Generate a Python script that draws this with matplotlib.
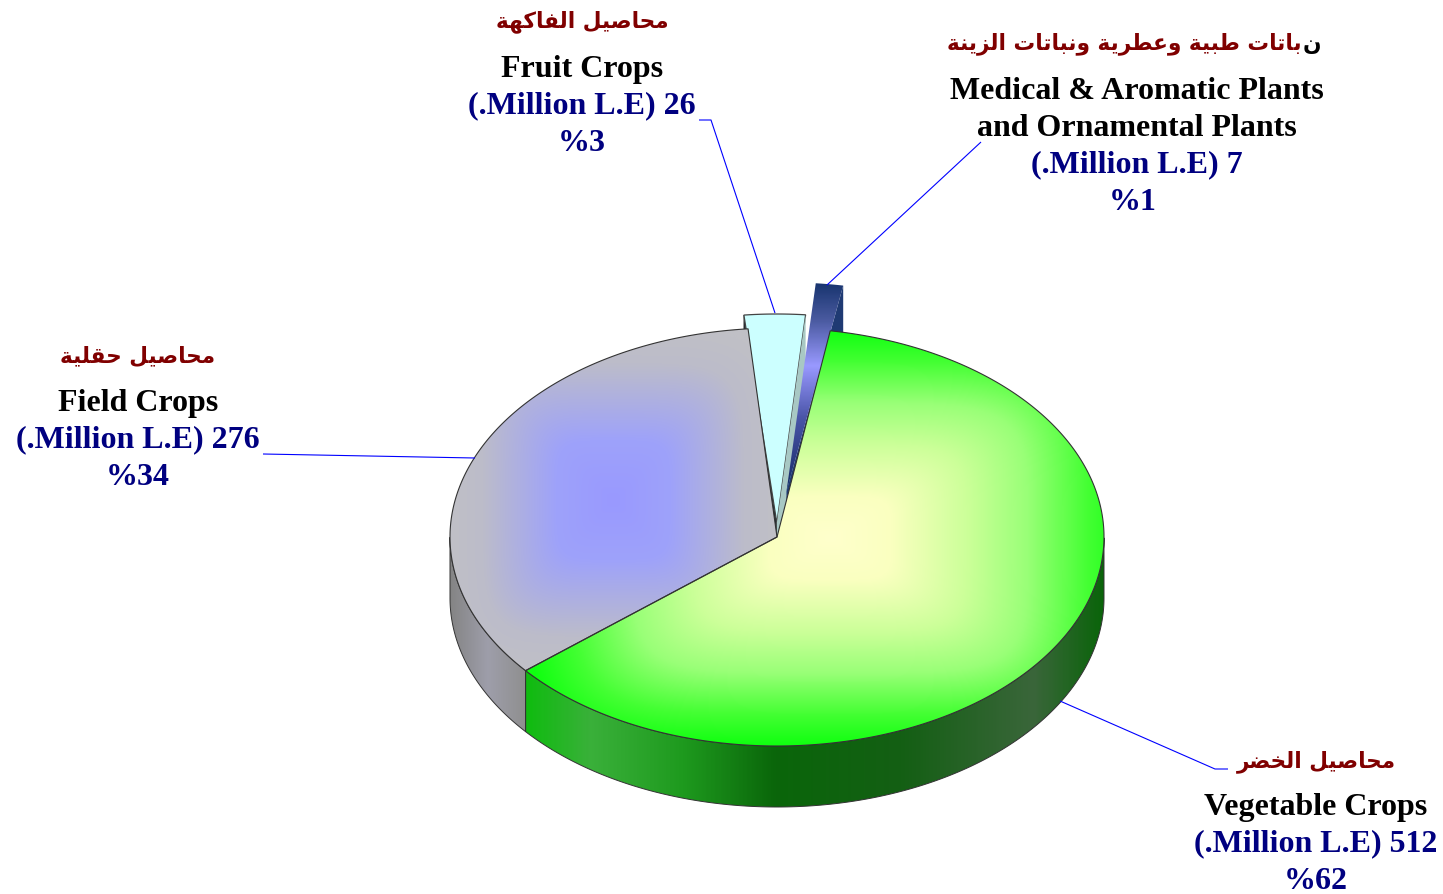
import unicodedata
import numpy as np
import matplotlib
matplotlib.use("Agg")
import matplotlib.pyplot as plt
from matplotlib.colors import LinearSegmentedColormap as LSC
from matplotlib.patches import Polygon

# ---------- data ----------
names_ar = ["محاصيل الخضر", "محاصيل حقلية", "محاصيل الفاكهة", "نباتات طبية وعطرية ونباتات الزينة"]
names_en = [["Vegetable Crops"], ["Field Crops"], ["Fruit Crops"],
            ["Medical & Aromatic Plants", "and Ornamental Plants"]]
values = [512, 276, 26, 7]
percents = [62, 34, 3, 1]

# ---------- layout / style ----------
W, H = 1443, 894
CX, CY, RX, RY, DEPTH = 777, 537, 327, 209, 61
START = 9.4
EXPLODE = [0, 0, 0.067, 0.22]
SPREAD = [1, 1, 0.95, 1.58]
SHIFT = [0, 0, -1.0, -0.3]
FS_EN, FS_AR = 23, 15.6
RED, NAVY, LINE = "#800000", "#000080", "#0000FF"
TXT = dict(family="Liberation Serif", fontweight="bold", ha="center", va="baseline")
ARB = dict(family="DejaVu Sans", fontweight="bold", va="center")
label_pos = [(1316, 815, 762), (138, 411, 356), (582, 77, 22), (1137, 99, 44)]
pct_dx = [0, 0, 0, -4]
leaders = [([1060, 1215, 1228], [701, 769, 769]),
           ([263, 475], [454, 458]),
           ([699, 711, 775], [120, 120, 313]),
           ([981, 827], [142, 285])]


def shape(text):
    """Shape Arabic into presentation forms, in visual order."""
    forms = {}
    for cp in range(0xFE70, 0xFEFF):
        d = unicodedata.decomposition(chr(cp)).split()
        if len(d) == 2 and d[0] in ("<isolated>", "<final>", "<initial>", "<medial>"):
            forms.setdefault(chr(int(d[1], 16)), {})[d[0]] = chr(cp)
    right_only = set("اأإآدذرزوة")
    out = []
    for i, c in enumerate(text):
        if c not in forms:
            out.append(c)
            continue
        prev = text[i - 1] if i else " "
        nxt = text[i + 1] if i + 1 < len(text) else " "
        a = prev in forms and prev not in right_only
        b = nxt in forms and c not in right_only
        key = "<medial>" if a and b else "<final>" if a else "<initial>" if b else "<isolated>"
        out.append(forms[c][key])
    return "".join(out[::-1])


def warp(t):
    return t - 2.3 * (1 - np.cos(np.radians(t)))


def rim(t, dx=0.0, dy=0.0, warped=True):
    a = np.radians(warp(t) if warped else t)
    return CX + dx + RX * np.sin(a), CY + dy - RY * np.cos(a)


def gradient(ax, xy, img, extent, cmap, z):
    patch = Polygon(xy, closed=True, transform=ax.transData, fc="none", ec="none")
    ax.add_patch(patch)
    im = ax.imshow(img, extent=extent, cmap=cmap, vmin=0, vmax=1, aspect="auto",
                   zorder=z, interpolation="bilinear")
    im.set_clip_path(patch)


def outline(ax, xy, z, color="#333333", lw=0.8):
    ax.add_patch(Polygon(xy, closed=True, fc="none", ec=color, lw=lw, zorder=z, joinstyle="round"))


def rect_field(x0, x1, y0, y1, cx, cy, hw, hh, p=5):
    xs, ys = np.meshgrid(np.linspace(x0, x1, 500), np.linspace(y0, y1, 500))
    return np.clip(((np.abs(xs - cx) / hw) ** p + (np.abs(ys - cy) / hh) ** p) ** (1 / p), 0, 1)


green_top = LSC.from_list("gt", [(0, "#FFFFCC"), (.2, "#FAFFC0"), (.45, "#CCFF99"), (.65, "#99FF77"),
                                 (.85, "#44FF33"), (1, "#10FF10")])
gray_top = LSC.from_list("gr", [(0, "#9999FF"), (.35, "#9EA2FA"), (.8, "#BCBCCA"), (1, "#C0C0C6")])
green_wall = LSC.from_list("gw", [(0, "#10BC10"), (.11, "#3AB03A"), (.27, "#1E9A1E"), (.43, "#0A660A"),
                                  (.65, "#145F14"), (.88, "#3A663A"), (1, "#0A640A")])
gray_wall = LSC.from_list("gy", [(0, "#848484"), (.5, "#9E9EAA"), (1, "#8F8F8F")])
blue_top = LSC.from_list("bt", [(0, "#17346E"), (.18, "#4A5AA0"), (.4, "#9999FF"), (.65, "#4A55A8"), (1, "#142A66")])

fig = plt.figure(figsize=(W / 100, H / 100), dpi=100)
ax = fig.add_axes([0, 0, 1, 1])
ax.axis("off")

# slice angles from the values
total = sum(values)
edges = START + np.cumsum([0] + values) * 360.0 / total

# exploded slices (behind), in drawing order fruit, medical
for i, (fill, wall_l, wall_r) in {2: ("#CCFFFF", "#1E2A30", "#A8C8C4"), 3: (None, None, "#1F3A73")}.items():
    mid = (edges[i] + edges[i + 1]) / 2 + SHIFT[i]
    half = (edges[i + 1] - edges[i]) / 2 * SPREAD[i]
    a = np.radians(mid)
    ex, ey = EXPLODE[i] * RX * np.sin(a), -EXPLODE[i] * RY * np.cos(a)
    ts = np.linspace(mid - half, mid + half, 12)
    ox, oy = rim(ts, ex, ey, warped=False)
    ax_, ay_ = CX + ex, CY + ey
    top = np.r_[[[ax_, ay_]], np.c_[ox, oy]]
    if wall_l:
        w = [(ax_, ay_), (ox[0], oy[0]), (ox[0], oy[0] + DEPTH), (ax_, ay_ + DEPTH)]
        ax.add_patch(Polygon(w, closed=True, fc=wall_l, ec="#333333", lw=.5, zorder=2))
    w = [(ax_, ay_), (ox[-1], oy[-1]), (ox[-1], oy[-1] + DEPTH), (ax_, ay_ + DEPTH)]
    ax.add_patch(Polygon(w, closed=True, fc=wall_r, ec="none", zorder=2 + i))
    if fill:
        ax.add_patch(Polygon(top, closed=True, fc=fill, ec="#444444", lw=.9, zorder=3))
    else:
        y0, y1 = oy.min(), ay_
        img = np.linspace(0, 1, 300)[:, None]
        gradient(ax, top, img, (ox.min() - 40, ox.max() + 2, y1, y0), blue_top, 6)

# main slices
for i, (tcm, wcm) in enumerate([(green_top, green_wall), (gray_top, gray_wall)]):
    t1, t2 = edges[i], edges[i + 1]
    ts = np.linspace(t1, t2, 400)
    x, y = rim(ts)
    top = np.r_[[[CX, CY]], np.c_[x, y]]
    cx, hw = (x.min() + max(x.max(), CX)) / 2, (max(x.max(), CX) - x.min()) / 2
    cy, hh = (y.min() + y.max()) / 2, (y.max() - y.min()) / 2
    cx += 15 * (i == 0)
    img = rect_field(x.min(), max(x.max(), CX), y.min(), y.max(), cx, cy, hw * (1 + .05 * (i == 0)), hh)
    gradient(ax, top, img, (x.min(), max(x.max(), CX), y.max(), y.min()), tcm, 8)
    outline(ax, top, 9)
    # front wall
    ws = np.linspace(t1, t2, 400)
    ws = ws[(warp(ws) >= 90) & (warp(ws) <= 270)]
    wx, wy = rim(ws)
    wall = np.r_[np.c_[wx, wy], np.c_[wx, wy + DEPTH][::-1]]
    img = np.linspace(0, 1, 400)[None, :]
    gradient(ax, wall, img, (wx.min(), wx.max(), wy.max() + DEPTH, wy.min()), wcm, 7)
    outline(ax, wall, 7.5, lw=.7)

# leader lines
for lx, ly in leaders:
    ax.plot(lx, ly, color=LINE, lw=.8, zorder=10, solid_capstyle="butt")

# labels
for i, (x, y, ya) in enumerate(label_pos):
    if i == 3:
        src = names_ar[i]
        ax.text(1321, ya, shape(src[0]), color="black", fontsize=FS_AR, ha="right", **ARB)
        ax.text(1302, ya, shape(src[1:]), color=RED, fontsize=FS_AR, ha="right", **ARB)
    else:
        ax.text(x, ya, shape(names_ar[i]), color=RED, fontsize=FS_AR, ha="center", **ARB)
    yy = y
    for line in names_en[i]:
        ax.text(x, yy, line, color="black", fontsize=FS_EN, **TXT)
        yy += 37
    ax.text(x, yy - 1, f"(.Million L.E) {values[i]}", color=NAVY, fontsize=FS_EN, **TXT)
    ax.text(x + pct_dx[i], yy + 37, f"%{percents[i]}", color=NAVY, fontsize=FS_EN, **TXT)

ax.set_xlim(0, W)
ax.set_ylim(H, 0)
fig.savefig("out.png", dpi=100, facecolor="white")
